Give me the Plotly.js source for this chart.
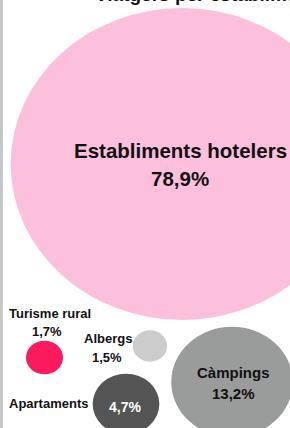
<!DOCTYPE html>
<html>
<head>
<meta charset="utf-8">
<script src="https://cdn.plot.ly/plotly-3.0.1.min.js"></script>
<style>
html,body{margin:0;padding:0;background:#fff;overflow:hidden;}
#chart{width:290px;height:428px;}
</style>
</head>
<body>
<div id="chart"></div>
<script>
// ---- data ----
const categories = ['Establiments hotelers', 'Càmpings', 'Apartaments', 'Turisme rural', 'Albergs'];
const values = [78.9, 13.2, 4.7, 1.7, 1.5];
const titleText = 'Viatgers per establiment';

// ---- layout (bubble placement, in px of the 290x428 canvas) ----
const posX = [182, 232, 126, 44.5, 150];
const posY = [164, 382, 404, 357.5, 346];
const colors = ['#fdc0dc', '#999c9b', '#555555', '#fc1a5e', '#cccccc'];
const nameX = [180, 233, 48, 50, 107.5];
const nameY = [150, 372, 403, 313, 338];
const valX  = [180, 233, 125, 47, 107];
const valY  = [178, 393, 407, 331, 357];
const nameSize = [20.5, 15, 13, 13, 13];
const valSize  = [20.5, 15, 14, 13, 13];
const valColor = ['#111', '#111', '#ffffff', '#111', '#111'];

function fmt(v){ return v.toFixed(1).replace('.', ',') + '%'; }
function radius(v){ return 18.5 * Math.pow(v / 1.7, 0.58); }
const yRatio = 0.91;

const font = 'Liberation Sans, Arial, sans-serif';
const shapes = [{
  type:'rect', xref:'paper', yref:'paper', x0:0, x1:3/290, y0:0, y1:1,
  fillcolor:'#c8c8c8', line:{width:0}, layer:'above'
}];
values.forEach((v,i)=>{
  const rx = radius(v), ry = rx*yRatio;
  shapes.push({type:'circle', xref:'x', yref:'y', layer:'below',
    x0:posX[i]-rx, x1:posX[i]+rx, y0:posY[i]-ry, y1:posY[i]+ry,
    fillcolor:colors[i], line:{width:0}});
});

const annotations = [];
categories.forEach((c,i)=>{
  annotations.push({x:nameX[i], y:nameY[i], xref:'x', yref:'y', text:'<b>'+c+'</b>', showarrow:false,
    font:{family:font, size:nameSize[i], color:'#111'}, xanchor:'center', yanchor:'middle'});
  annotations.push({x:valX[i], y:valY[i], xref:'x', yref:'y', text:'<b>'+fmt(values[i])+'</b>', showarrow:false,
    font:{family:font, size:valSize[i], color:valColor[i]}, xanchor:'center', yanchor:'middle'});
});
// title: only its lower edge shows at the top of the frame, as in the reference
annotations.push({x:205, y:7, xref:'x', yref:'y', text:'<b>'+titleText+'</b>', showarrow:false,
  font:{family:font, size:19, color:'#111'}, xanchor:'center', yanchor:'bottom'});

const data = [{
  type:'scatter', mode:'markers', x:posX, y:posY, marker:{size:1, opacity:0},
  hoverinfo:'skip', showlegend:false, text:categories
}];

const layout = {
  width:290, height:428,
  margin:{l:0, r:0, t:0, b:0},
  paper_bgcolor:'#ffffff', plot_bgcolor:'#ffffff',
  xaxis:{range:[0,290], visible:false, fixedrange:true},
  yaxis:{range:[428,0], visible:false, fixedrange:true},
  shapes:shapes, annotations:annotations, showlegend:false
};
Plotly.newPlot('chart', data, layout, {staticPlot:true, displayModeBar:false});
</script>
</body>
</html>
